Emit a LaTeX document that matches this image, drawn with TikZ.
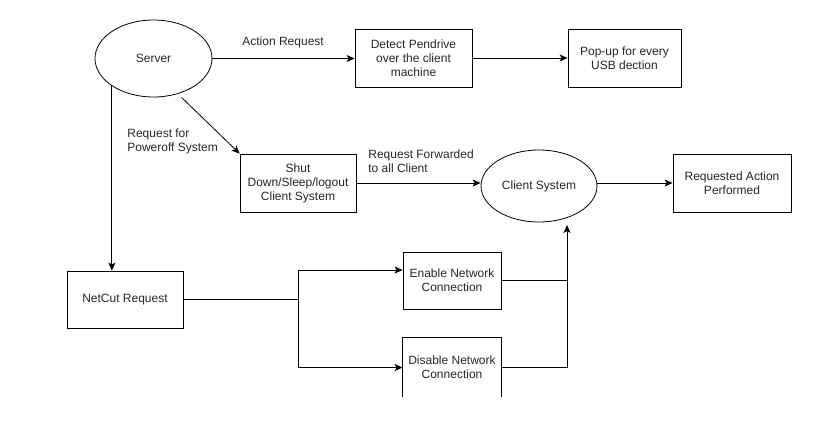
\documentclass[tikz,border=0pt]{standalone}
\usepackage{fontspec}
\setmainfont{Liberation Sans}
\usetikzlibrary{shapes.geometric,arrows.meta}

\begin{document}
\begin{tikzpicture}[x=1pt,y=-1pt,>={Stealth[length=8pt,width=7pt,inset=2pt]},line width=0.8pt,
  every node/.style={font=\fontsize{12}{14}\selectfont,text=black!85,align=center,inner sep=0pt},
  proc/.style={draw,rectangle,minimum width=#1,minimum height=58pt},
  proc/.default=116pt,
  oval/.style={draw,ellipse,minimum width=117pt,minimum height=#1},
  lbl/.style={align=left,anchor=west}]
  \useasboundingbox (0,0) rectangle (825,424);

  \node[oval=77pt] (server) at (153.5,58.5) {Server};
  \node[proc=117pt] (detect) at (413.5,58) {Detect Pendrive\\over the client\\machine};
  \node[proc=113pt] (popup) at (624.5,58) {Pop-up for every\\USB dection};
  \node[proc] (shut) at (298,183) {Shut\\Down/Sleep/logout\\Client System};
  \node[oval=72pt,minimum width=116pt] (client) at (539,186) {Client System};
  \node[proc=118pt] (done) at (732,183) {Requested Action\\Performed};
  \node[proc,minimum height=57pt] (netcut) at (125,299.5) {NetCut Request};
  \node[proc=98pt,minimum height=57pt] (enable) at (452,280.5) {Enable Network\\Connection};
  \node[minimum width=98pt,minimum height=59pt] (disable) at (452,367.5) {Disable Network\\Connection};
  \draw (disable.south west) -- (disable.north west) -- (disable.north east) -- (disable.south east);

  \node[lbl] (actlbl) at (242,42) {Action Request};
  \node[lbl] (powlbl) at (127,141) {Request for\\Poweroff System};
  \node[lbl] (fwdlbl) at (368,161) {Request Forwarded\\to all Client};

  \coordinate (bend) at (298,299.5);
  \coordinate (cin) at (567,225);

  \draw[->] (server.east) -- (server.east -| detect.west);
  \draw[->] (detect) -- (popup);
  \draw[->] (server.south west) -- (server.south west |- netcut.north);
  \draw[->] ([xshift=28pt]server.south) -- (shut.north west);
  \draw[->] (shut.east) -- (shut.east -| client.west);
  \draw[->] (done.west -| client.east) -- (done.west);
  \draw (netcut.east) -- (bend);
  \draw[->] (bend) |- ([yshift=10.5pt]enable.west);
  \draw[->] (bend) |- (disable.west);
  \draw (enable.east) -- (enable.east -| cin);
  \draw[->] (disable.east) -| (cin);
\end{tikzpicture}
\end{document}
